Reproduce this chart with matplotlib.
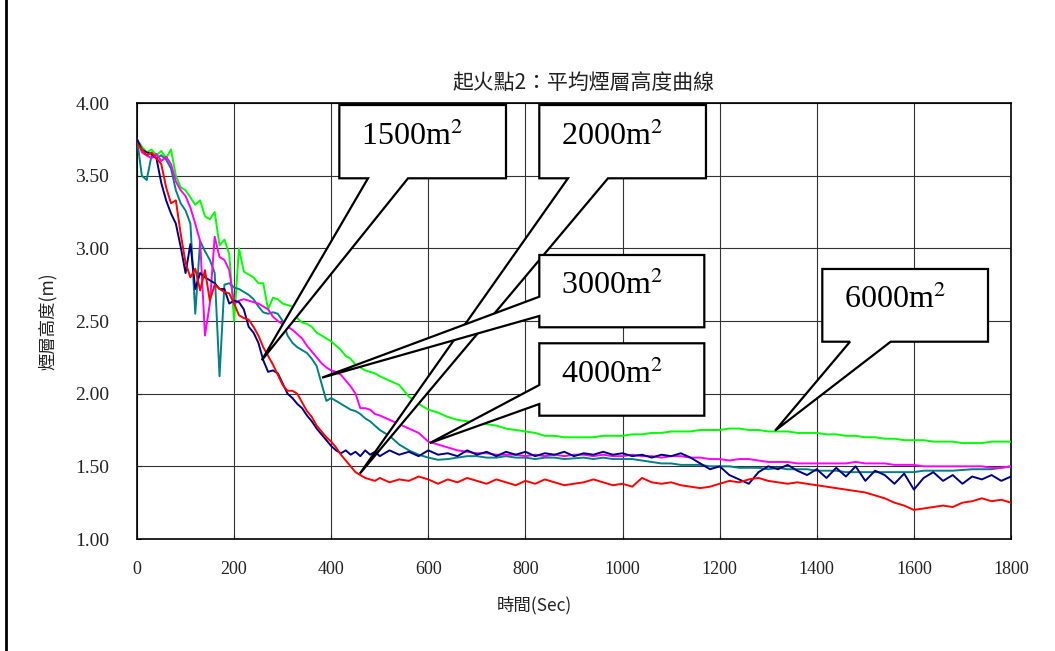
#!/usr/bin/env python3

import matplotlib
matplotlib.use('Agg')
import matplotlib.pyplot as plt
from matplotlib.patches import Polygon
from matplotlib.lines import Line2D

plt.rcParams['mathtext.fontset'] = 'stix'

CJK = ['Noto Sans CJK TC', 'DejaVu Sans']
SERIF = 'Liberation Serif'

# sample times (sec): every 10 s up to 490, then every 20 s
TIME = list(range(0, 500, 10)) + list(range(500, 1801, 20))

# average smoke layer height (m)
H_6000 = [
    3.75, 3.70, 3.66, 3.68, 3.64, 3.67, 3.62, 3.68, 3.50, 3.42,
    3.40, 3.35, 3.30, 3.33, 3.22, 3.20, 3.25, 3.02, 3.06, 2.96,
    2.50, 3.00, 2.84, 2.82, 2.80, 2.76, 2.76, 2.58, 2.66, 2.65,
    2.62, 2.61, 2.60, 2.52, 2.49, 2.48, 2.46, 2.42, 2.40, 2.38,
    2.36, 2.33, 2.30, 2.26, 2.24, 2.20, 2.18, 2.16, 2.15, 2.14,
    2.12, 2.09, 2.06, 1.98, 1.93, 1.89, 1.87, 1.84, 1.82, 1.81,
    1.80, 1.79, 1.78, 1.76, 1.75, 1.74, 1.73, 1.71, 1.71, 1.70,
    1.70, 1.70, 1.70, 1.71, 1.71, 1.71, 1.72, 1.72, 1.73, 1.73,
    1.74, 1.74, 1.74, 1.75, 1.75, 1.75, 1.76, 1.76, 1.75, 1.75,
    1.74, 1.74, 1.74, 1.73, 1.73, 1.73, 1.72, 1.72, 1.71, 1.71,
    1.70, 1.70, 1.69, 1.69, 1.68, 1.68, 1.68, 1.67, 1.67, 1.67,
    1.66, 1.66, 1.66, 1.67, 1.67, 1.67,
]
H_4000 = [
    3.75, 3.66, 3.64, 3.62, 3.65, 3.60, 3.63, 3.58, 3.46, 3.40,
    3.36, 3.28, 3.17, 3.05, 2.40, 2.62, 3.08, 2.94, 2.92, 2.85,
    2.62, 2.64, 2.65, 2.64, 2.63, 2.62, 2.60, 2.58, 2.53, 2.50,
    2.48, 2.46, 2.44, 2.41, 2.38, 2.33, 2.29, 2.25, 2.21, 2.18,
    2.16, 2.15, 2.13, 2.09, 2.05, 2.00, 1.90, 1.90, 1.89, 1.86,
    1.85, 1.82, 1.79, 1.76, 1.73, 1.67, 1.65, 1.63, 1.61, 1.60,
    1.59, 1.59, 1.58, 1.58, 1.58, 1.57, 1.58, 1.57, 1.58, 1.57,
    1.58, 1.58, 1.57, 1.58, 1.57, 1.57, 1.58, 1.57, 1.57, 1.56,
    1.57, 1.57, 1.56, 1.56, 1.55, 1.55, 1.54, 1.55, 1.55, 1.54,
    1.53, 1.53, 1.53, 1.52, 1.52, 1.52, 1.52, 1.52, 1.52, 1.53,
    1.52, 1.52, 1.52, 1.51, 1.51, 1.51, 1.50, 1.50, 1.50, 1.50,
    1.50, 1.50, 1.50, 1.49, 1.49, 1.50,
]
H_3000 = [
    3.75, 3.50, 3.47, 3.64, 3.62, 3.64, 3.61, 3.55, 3.40, 3.31,
    3.26, 3.17, 2.55, 3.05, 2.98, 2.92, 2.83, 2.12, 2.75, 2.76,
    2.73, 2.72, 2.70, 2.68, 2.65, 2.60, 2.56, 2.55, 2.56, 2.55,
    2.50, 2.40, 2.35, 2.32, 2.30, 2.28, 2.24, 2.19, 2.07, 1.95,
    1.97, 1.95, 1.93, 1.91, 1.89, 1.88, 1.86, 1.83, 1.81, 1.78,
    1.75, 1.71, 1.65, 1.61, 1.58, 1.56, 1.545, 1.55, 1.56, 1.57,
    1.57, 1.56, 1.56, 1.57, 1.56, 1.56, 1.55, 1.56, 1.56, 1.55,
    1.555, 1.56, 1.55, 1.56, 1.55, 1.55, 1.55, 1.54, 1.53, 1.52,
    1.52, 1.51, 1.51, 1.51, 1.50, 1.50, 1.50, 1.49, 1.49, 1.49,
    1.48, 1.49, 1.48, 1.48, 1.48, 1.47, 1.47, 1.47, 1.46, 1.46,
    1.46, 1.46, 1.46, 1.46, 1.46, 1.46, 1.47, 1.47, 1.47, 1.47,
    1.475, 1.48, 1.48, 1.48, 1.49, 1.50,
]
H_NAVY = [
    3.75, 3.68, 3.66, 3.65, 3.62, 3.45, 3.33, 3.24, 3.17, 3.01,
    2.83, 3.03, 2.72, 2.83, 2.80, 2.78, 2.76, 2.72, 2.72, 2.62,
    2.64, 2.63, 2.58, 2.46, 2.42, 2.35, 2.23, 2.15, 2.16, 2.14,
    2.07, 2.00, 1.97, 1.93, 1.90, 1.85, 1.81, 1.76, 1.72, 1.68,
    1.64, 1.61, 1.59, 1.61, 1.58, 1.60, 1.57, 1.61, 1.58, 1.60,
    1.57, 1.61, 1.58, 1.60, 1.57, 1.61, 1.58, 1.59, 1.57, 1.61,
    1.58, 1.60, 1.57, 1.60, 1.58, 1.60, 1.57, 1.59, 1.58, 1.60,
    1.57, 1.59, 1.58, 1.60, 1.58, 1.59, 1.57, 1.58, 1.56, 1.58,
    1.57, 1.59, 1.56, 1.52, 1.48, 1.50, 1.44, 1.41, 1.38, 1.46,
    1.50, 1.48, 1.51, 1.47, 1.44, 1.48, 1.42, 1.49, 1.43, 1.50,
    1.40, 1.47, 1.44, 1.38, 1.45, 1.34, 1.42, 1.46, 1.40, 1.44,
    1.38, 1.43, 1.41, 1.44, 1.40, 1.43,
]
H_RED = [
    3.72, 3.68, 3.64, 3.66, 3.62, 3.58, 3.42, 3.31, 3.33, 3.10,
    2.90, 2.80, 2.86, 2.71, 2.85, 2.64, 2.75, 2.72, 2.70, 2.69,
    2.62, 2.54, 2.52, 2.51, 2.46, 2.40, 2.32, 2.26, 2.20, 2.13,
    2.06, 2.02, 2.02, 2.00, 1.94, 1.88, 1.84, 1.78, 1.74, 1.70,
    1.67, 1.63, 1.58, 1.54, 1.50, 1.46, 1.44, 1.42, 1.41, 1.40,
    1.42, 1.39, 1.41, 1.40, 1.43, 1.41, 1.38, 1.41, 1.39, 1.42,
    1.40, 1.38, 1.41, 1.39, 1.37, 1.40, 1.38, 1.41, 1.39, 1.37,
    1.38, 1.39, 1.41, 1.39, 1.37, 1.38, 1.36, 1.42, 1.39, 1.38,
    1.39, 1.37, 1.36, 1.35, 1.36, 1.38, 1.40, 1.39, 1.41, 1.42,
    1.40, 1.39, 1.38, 1.39, 1.38, 1.37, 1.36, 1.35, 1.34, 1.33,
    1.32, 1.30, 1.28, 1.25, 1.23, 1.20, 1.21, 1.22, 1.23, 1.22,
    1.25, 1.26, 1.28, 1.26, 1.27, 1.25,
]

X_TICKS = [0, 200, 400, 600, 800, 1000, 1200, 1400, 1600, 1800]
Y_TICKS = [1.0, 1.5, 2.0, 2.5, 3.0, 3.5, 4.0]

# callout label, box (axes fraction L, B, R, T), tip (time, height), wedge base, side
CALLOUTS = [
    ('1500', (0.2315, 0.8273, 0.4222, 0.9954), (257, 2.23), (0.2643, 0.3101), 'bottom'),
    ('2000', (0.4603, 0.8273, 0.6510, 0.9954), (459, 1.45), (0.4931, 0.5389), 'bottom'),
    ('3000', (0.4603, 0.4856, 0.6491, 0.6514), (381, 2.11), (0.5115, 0.5557), 'left'),
    ('4000', (0.4603, 0.2828, 0.6491, 0.4489), (603, 1.66), (0.3096, 0.3532), 'left'),
    ('6000', (0.7841, 0.4525, 0.9737, 0.6193), (1314, 1.745), (0.8158, 0.8623), 'bottom'),
]


def callout(ax, label, box, tip, base, side):
    L, B, R, T = box
    tx, ty = ax.transAxes.inverted().transform(ax.transData.transform(tip))
    if side == 'bottom':
        verts = [(L, T), (R, T), (R, B), (base[1], B), (tx, ty), (base[0], B), (L, B)]
    else:
        verts = [(L, T), (R, T), (R, B), (L, B), (L, base[0]), (tx, ty), (L, base[1])]
    ax.add_patch(Polygon(verts, closed=True, transform=ax.transAxes, fc='white',
                         ec='black', lw=1.6, zorder=10, clip_on=False))
    ax.text(L + 0.025, (B + T) / 2 + 0.012, label + 'm$^{2}$', transform=ax.transAxes,
            family=SERIF, fontsize=23, ha='left', va='center', zorder=11)


fig = plt.figure(figsize=(10.55, 6.51), dpi=100)
ax = fig.add_axes([137 / 1055, 1 - 539 / 651, 874 / 1055, 436 / 651])

ax.plot(TIME, H_6000, color='#00FF00', lw=1.4, zorder=3)
ax.plot(TIME, H_3000, color='#008080', lw=1.4, zorder=4)
ax.plot(TIME, H_4000, color='#FF00FF', lw=1.4, zorder=4)
ax.plot(TIME, H_NAVY, color='#000080', lw=1.4, zorder=5)
ax.plot(TIME, H_RED, color='#FF0000', lw=1.4, zorder=6)

ax.set_xlim(0, 1800)
ax.set_ylim(1.0, 4.0)
ax.set_xticks(X_TICKS)
ax.set_yticks(Y_TICKS)
ax.set_xticklabels([str(x) for x in X_TICKS], family=SERIF, fontsize=13)
ax.set_yticklabels(['%.2f' % y for y in Y_TICKS], family=SERIF, fontsize=14)
ax.tick_params(axis='x', direction='in', length=3, pad=16, colors='#222222')
ax.tick_params(axis='y', direction='in', length=3, pad=20, colors='#222222')
ax.grid(True, color='#333333', lw=0.8)
ax.set_axisbelow(True)
for s in ax.spines.values():
    s.set_linewidth(1.2)
    s.set_color('black')

for c in CALLOUTS:
    callout(ax, *c)

fig.text(583 / 1055, 1 - 83 / 651, '起火點2：平均煙層高度曲線', family=CJK,
         fontsize=15, ha='center', va='center', color='#222222')
fig.text(534 / 1055, 1 - 605 / 651, '時間(Sec)', family=CJK, fontsize=12.5,
         ha='center', va='center', color='#222222')
fig.text(48 / 1055, 1 - 321 / 651, '煙層高度(m)', family=CJK, fontsize=12.5,
         rotation=90, ha='center', va='center', color='#222222')

fig.add_artist(Line2D([6 / 1055, 6 / 1055], [0, 1], color='black', lw=2,
                      transform=fig.transFigure))

plt.savefig('out.png', dpi=100)
